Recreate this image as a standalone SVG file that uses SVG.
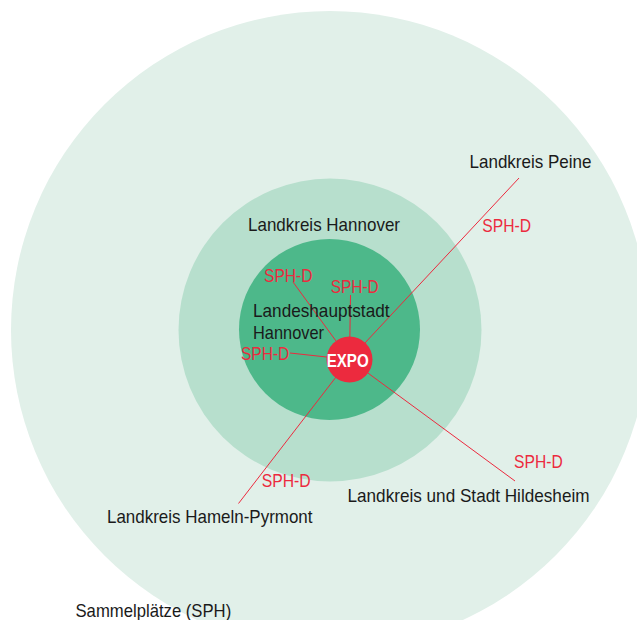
<svg xmlns="http://www.w3.org/2000/svg" width="637" height="620" viewBox="0 0 637 620">
  <style>
    .lbl { font-family: "Liberation Sans", Arial, sans-serif; font-size: 19px; fill: #1a1a1a; }
    .sph { font-family: "Liberation Sans", Arial, sans-serif; font-size: 19px; fill: #ec2a3e; }
    .expo { font-family: "Liberation Sans", Arial, sans-serif; font-size: 18px; font-weight: bold; fill: #ffffff; }
    .conn { stroke: #ec2a3e; stroke-width: 1; fill: none; }
  </style>
  <rect width="637" height="620" fill="#ffffff"/>
  <g id="ring-sammelplaetze">
    <circle cx="330" cy="330" r="319" fill="#e1f0e9"/>
  </g>
  <g id="ring-landkreis-hannover">
    <circle cx="330" cy="330" r="151.5" fill="#b7dfcd"/>
  </g>
  <g id="ring-landeshauptstadt">
    <circle cx="329.5" cy="329.5" r="90.5" fill="#4db88a"/>
  </g>
  <g id="connectors">
    <line class="conn" x1="519" y1="178" x2="349.5" y2="359.5"/>
    <line class="conn" x1="293" y1="282" x2="349.5" y2="359.5"/>
    <line class="conn" x1="350.5" y1="295" x2="349.5" y2="359.5"/>
    <line class="conn" x1="290" y1="353" x2="349.5" y2="359.5"/>
    <line class="conn" x1="238.5" y1="503.5" x2="349.5" y2="359.5"/>
    <line class="conn" x1="515" y1="481" x2="349.5" y2="359.5"/>
  </g>
  <g id="expo">
    <circle cx="349.5" cy="359.5" r="23" fill="#ec2a3e"/>
    <text class="expo" x="326.7" y="367.3" textLength="42" lengthAdjust="spacingAndGlyphs">EXPO</text>
  </g>
  <g id="labels">
    <text class="lbl" x="469.5" y="168" textLength="122" lengthAdjust="spacingAndGlyphs">Landkreis Peine</text>
    <text class="lbl" x="248" y="231" textLength="152" lengthAdjust="spacingAndGlyphs">Landkreis Hannover</text>
    <text class="lbl" x="253" y="317" textLength="136.5" lengthAdjust="spacingAndGlyphs">Landeshauptstadt</text>
    <text class="lbl" x="253" y="339" textLength="71" lengthAdjust="spacingAndGlyphs">Hannover</text>
    <text class="lbl" x="347.5" y="502" textLength="242" lengthAdjust="spacingAndGlyphs">Landkreis und Stadt Hildesheim</text>
    <text class="lbl" x="107" y="522.5" textLength="205.5" lengthAdjust="spacingAndGlyphs">Landkreis Hameln-Pyrmont</text>
    <text class="lbl" x="75.5" y="617" textLength="155.7" lengthAdjust="spacingAndGlyphs">Sammelplätze (SPH)</text>
  </g>
  <g id="sph-labels">
    <text class="sph" x="264" y="281.5" textLength="48.5" lengthAdjust="spacingAndGlyphs">SPH-D</text>
    <text class="sph" x="330.7" y="292.7" textLength="48" lengthAdjust="spacingAndGlyphs">SPH-D</text>
    <text class="sph" x="241" y="360" textLength="48.3" lengthAdjust="spacingAndGlyphs">SPH-D</text>
    <text class="sph" x="482.3" y="231.7" textLength="48.7" lengthAdjust="spacingAndGlyphs">SPH-D</text>
    <text class="sph" x="514" y="467.7" textLength="48.7" lengthAdjust="spacingAndGlyphs">SPH-D</text>
    <text class="sph" x="261.7" y="487.3" textLength="49" lengthAdjust="spacingAndGlyphs">SPH-D</text>
  </g>
</svg>
